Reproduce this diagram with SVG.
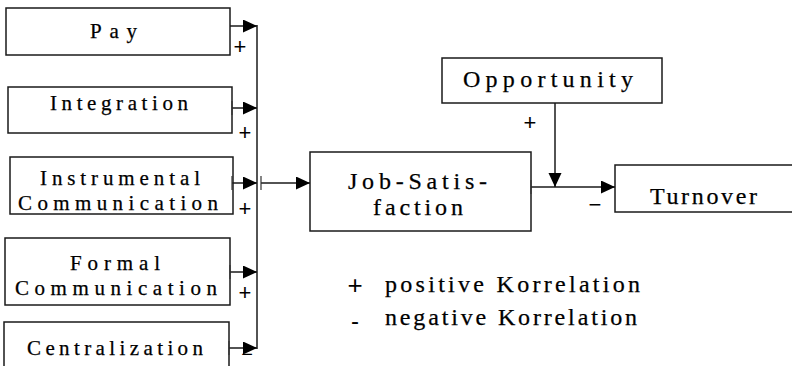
<svg xmlns="http://www.w3.org/2000/svg" width="792" height="366" viewBox="0 0 792 366">
<style>
.box{fill:#fff;stroke:#1a1a1a;stroke-width:1.5}
.t{font-family:"Liberation Serif","Times New Roman",serif;fill:#000;stroke:#000;stroke-width:0.25}
.s{font-size:21px}
.l{font-size:24px}
.c{fill:none;stroke:#1a1a1a;stroke-width:1.5}
.sign{font-family:"Liberation Sans",Arial,sans-serif;font-size:22px;fill:#000;text-anchor:middle}
</style>
<defs>
<marker id="arr" markerUnits="userSpaceOnUse" markerWidth="16" markerHeight="14" refX="14" refY="6.5" orient="auto" viewBox="0 0 16 14">
<path d="M0,0 L14,6.5 L0,13 z" fill="#000"/>
</marker>
<marker id="tick" markerUnits="userSpaceOnUse" markerWidth="4" markerHeight="14" refX="1" refY="7" orient="auto" viewBox="0 0 4 14">
<path d="M1,0 L1,14" stroke="#333" stroke-width="1.2"/>
</marker>
</defs>
<g id="pay"><rect class="box" x="6" y="8" width="224" height="47"/><text class="t s" x="90" y="38" textLength="47" lengthAdjust="spacing">Pay</text></g>
<g id="integration"><rect class="box" x="8" y="87" width="224" height="46"/><text class="t s" x="50" y="110" textLength="138" lengthAdjust="spacing">Integration</text></g>
<g id="instrumental"><rect class="box" x="10" y="157" width="223" height="57"/><text class="t s" x="40" y="185" textLength="160" lengthAdjust="spacing">Instrumental</text><text class="t s" x="18" y="210" textLength="200" lengthAdjust="spacing">Communication</text></g>
<g id="formal"><rect class="box" x="5" y="238" width="225" height="67"/><text class="t s" x="70" y="270" textLength="90" lengthAdjust="spacing">Formal</text><text class="t s" x="15" y="295" textLength="202" lengthAdjust="spacing">Communication</text></g>
<g id="centralization"><rect class="box" x="4" y="322" width="225" height="60"/><text class="t s" x="27" y="355" textLength="176" lengthAdjust="spacing">Centralization</text></g>
<g id="jobsat"><rect class="box" x="310" y="152" width="221" height="79"/><text class="t l" x="348" y="189" textLength="139" lengthAdjust="spacing">Job-Satis-</text><text class="t l" x="373" y="215" textLength="90" lengthAdjust="spacing">faction</text></g>
<g id="opportunity"><rect class="box" x="442" y="58" width="220" height="45"/><text class="t l" x="463" y="87" textLength="170" lengthAdjust="spacing">Opportunity</text></g>
<g id="turnover"><rect class="box" x="615" y="165" width="190" height="47"/><text class="t l" x="650" y="204" textLength="107" lengthAdjust="spacing">Turnover</text></g>
<g id="connectors">
<line class="c" x1="230" y1="26" x2="257" y2="26" marker-end="url(#arr)"/>
<line class="c" x1="232" y1="108" x2="257" y2="108" marker-start="url(#tick)" marker-end="url(#arr)"/>
<line class="c" x1="232" y1="183" x2="257" y2="183" marker-start="url(#tick)" marker-end="url(#arr)"/>
<line class="c" x1="230" y1="272" x2="257" y2="272" marker-start="url(#tick)" marker-end="url(#arr)"/>
<line class="c" x1="229" y1="348" x2="257" y2="348" marker-start="url(#tick)" marker-end="url(#arr)"/>
<line class="c" x1="257" y1="25" x2="257" y2="349"/>
<line class="c" x1="261" y1="183" x2="310" y2="183" marker-start="url(#tick)" marker-end="url(#arr)"/>
<line class="c" x1="531" y1="187" x2="615" y2="187" marker-start="url(#tick)" marker-end="url(#arr)"/>
<line class="c" x1="555" y1="103" x2="555" y2="187" marker-end="url(#arr)"/>
</g>
<g id="labels">
<text class="sign" x="240" y="54">+</text>
<text class="sign" x="245" y="140">+</text>
<text class="sign" x="245" y="216">+</text>
<text class="sign" x="245" y="300">+</text>
<text class="sign" x="247" y="361" style="font-size:20px">−</text>
<text class="sign" x="530" y="130">+</text>
<text class="sign" x="595" y="212">−</text>
</g>
<g id="legend">
<text class="sign" x="355" y="294" style="font-size:26px">+</text>
<text class="t l" x="385" y="292" textLength="255" lengthAdjust="spacing">positive Korrelation</text>
<text class="sign" x="355" y="329" style="font-size:24px">-</text>
<text class="t l" x="385" y="325" textLength="252" lengthAdjust="spacing">negative Korrelation</text>
</g>
</svg>
